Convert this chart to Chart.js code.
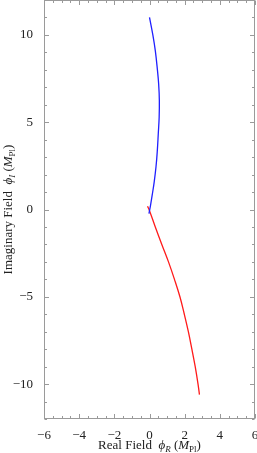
<!DOCTYPE html>
<html>
<head>
<meta charset="utf-8">
<script src="https://cdn.jsdelivr.net/npm/chart.js@4.4.1/dist/chart.umd.min.js"></script>
<style>
html,body{margin:0;padding:0;background:#fff;}
canvas{display:block;}
.pre{font-family:"Liberation Serif";position:absolute;left:-9999px;top:0;}
</style>
</head>
<body>
<span class="pre">Real Field <i>ϕ</i> 0123456789−</span>
<canvas id="c" width="257" height="453"></canvas>
<script>
// ---- data ----
const blueX = [0.00, 0.19, 0.33, 0.45, 0.52, 0.56, 0.55, 0.50, 0.44, 0.37, 0.27, 0.17, 0.06, -0.03];
const blueY = [11.0, 10.0, 9.1, 8.0, 7.2, 6.25, 5.3, 4.35, 3.3, 2.45, 1.6, 0.93, 0.25, -0.23];
const redX  = [-0.11, -0.01, 0.33, 0.70, 1.08, 1.42, 1.73, 1.98, 2.21, 2.41, 2.60, 2.76, 2.84];
const redY  = [0.19, -0.04, -1.0, -2.0, -3.0, -4.0, -5.0, -6.0, -7.0, -8.0, -9.0, -10.0, -10.6];
const xTickValues = [-6, -4, -2, 0, 2, 4, 6];
const yTickValues = [-10, -5, 0, 5, 10];
const xMinorStep = 0.5;
const yMinorStep = 1;
const xTitleParts = [
  {t:'Real Field  ', it:false, sub:false},
  {t:'\u03D5', it:true, sub:false},
  {t:'R', it:true, sub:true},
  {t:' (', it:false, sub:false},
  {t:'M', it:true, sub:false},
  {t:'Pl', it:false, sub:true},
  {t:')', it:false, sub:false}
];
const yTitleParts = [
  {t:'Imaginary Field  ', it:false, sub:false},
  {t:'\u03D5', it:true, sub:false},
  {t:'I', it:true, sub:true},
  {t:' (', it:false, sub:false},
  {t:'M', it:true, sub:false},
  {t:'Pl', it:false, sub:true},
  {t:')', it:false, sub:false}
];

const SERIF = '"Liberation Serif", "Times New Roman", Times, serif';
const FS = 13, SUBFS = 9;
const frameColor = '#9a9a9a';
const textColor = '#222';

function fmt(v){ return v < 0 ? '\u2212' + Math.abs(v) : String(v); }

function drawRich(ctx, parts, cx, baseY, rotate){
  ctx.save();
  ctx.translate(cx, baseY);
  if (rotate) ctx.rotate(-Math.PI/2);
  ctx.fillStyle = textColor;
  ctx.textBaseline = 'alphabetic';
  ctx.textAlign = 'left';
  const fontOf = p => (p.it ? 'italic ' : '') + (p.sub ? SUBFS : FS) + 'px ' + SERIF;
  let total = 0;
  parts.forEach(p => { ctx.font = fontOf(p); total += ctx.measureText(p.t).width; });
  let x = -total/2;
  parts.forEach(p => {
    ctx.font = fontOf(p);
    ctx.fillText(p.t, x, p.sub ? 3 : 0);
    x += ctx.measureText(p.t).width;
  });
  ctx.restore();
}

const frameTicks = {
  id: 'frameTicks',
  afterDraw(chart){
    const {ctx, chartArea: a, scales} = chart;
    const xs = scales.x, ys = scales.y;
    ctx.save();
    ctx.strokeStyle = frameColor;
    ctx.lineWidth = 1;
    const L = Math.round(a.left) + 0.5, R = Math.round(a.right) - 0.5;
    const T = Math.round(a.top) + 0.5, B = Math.round(a.bottom) - 0.5;
    ctx.strokeRect(L, T, R - L, B - T);
    ctx.beginPath();
    const major = 4.5, minor = 2.5;
    for (let v = xs.min; v <= xs.max + 1e-9; v += xMinorStep) {
      const isMaj = xTickValues.some(t => Math.abs(t - v) < 1e-9);
      const len = isMaj ? major : minor;
      const px = Math.round(xs.getPixelForValue(v)) + 0.5;
      ctx.moveTo(px, B); ctx.lineTo(px, B - len);
      ctx.moveTo(px, T); ctx.lineTo(px, T + len);
    }
    for (let v = ys.min; v <= ys.max + 1e-9; v += yMinorStep) {
      const isMaj = yTickValues.some(t => Math.abs(t - v) < 1e-9);
      const len = isMaj ? major : minor;
      const py = Math.round(ys.getPixelForValue(v)) + 0.5;
      ctx.moveTo(L, py); ctx.lineTo(L + len, py);
      ctx.moveTo(R, py); ctx.lineTo(R - len, py);
    }
    ctx.stroke();
    ctx.restore();
    drawRich(ctx, xTitleParts, (a.left + a.right)/2, 449, false);
    drawRich(ctx, yTitleParts, 12, (a.top + a.bottom)/2, true);
  }
};

function build(){
  new Chart(document.getElementById('c'), {
    type: 'scatter',
    data: {
      datasets: [
        {
          label: 'blue',
          data: blueX.map((x, i) => ({x, y: blueY[i]})),
          showLine: true, borderColor: '#2020ff', borderWidth: 1.3,
          pointRadius: 0, tension: 0.4, fill: false
        },
        {
          label: 'red',
          data: redX.map((x, i) => ({x, y: redY[i]})),
          showLine: true, borderColor: '#ff1a1a', borderWidth: 1.3,
          pointRadius: 0, tension: 0.4, fill: false
        }
      ]
    },
    options: {
      responsive: false,
      devicePixelRatio: 1,
      animation: false,
      layout: {padding: {top: 0, right: 2, left: 0, bottom: 0}},
      plugins: {legend: {display: false}, tooltip: {enabled: false}},
      scales: {
        x: {
          type: 'linear', position: 'bottom', min: -6, max: 6,
          grid: {display: false}, border: {display: false},
          afterBuildTicks: s => { s.ticks = xTickValues.map(v => ({value: v})); },
          afterFit: s => { s.height = 34; s.paddingLeft = 0; s.paddingRight = 0; },
          ticks: {color: textColor, padding: 1, maxRotation: 0, autoSkip: false,
                  font: {family: SERIF, size: FS}, callback: v => fmt(v)}
        },
        y: {
          type: 'linear', position: 'left', min: -12, max: 12,
          grid: {display: false}, border: {display: false},
          afterBuildTicks: s => { s.ticks = yTickValues.map(v => ({value: v})); },
          afterFit: s => { s.width = 44; s.paddingTop = 0; s.paddingBottom = 0; },
          ticks: {color: textColor, padding: 3, autoSkip: false,
                  font: {family: SERIF, size: FS}, callback: v => fmt(v)}
        }
      }
    },
    plugins: [frameTicks]
  });
}

Promise.all([
  document.fonts.load('13px "Liberation Serif"'),
  document.fonts.load('italic 13px "Liberation Serif"')
]).then(build, build);
</script>
</body>
</html>
